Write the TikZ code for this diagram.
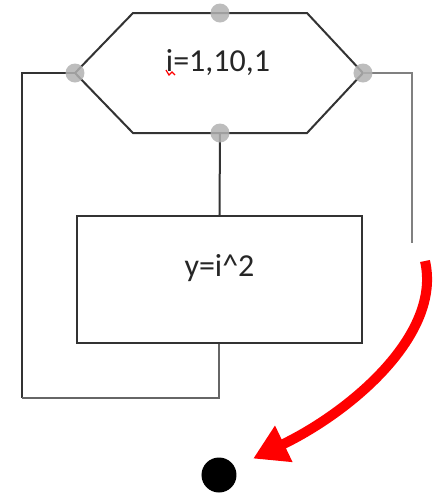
\documentclass[tikz,border=0pt]{standalone}
\usepackage{fontspec}
\setmainfont{Carlito}
\usetikzlibrary{positioning, arrows.meta}

\begin{document}
\begin{tikzpicture}[
        x=0.5pt, y=-0.5pt,
        block/.style={rectangle, draw=black!80, line width=1pt, minimum width=142.5pt, minimum height=63.5pt},
        label/.style={font=\fontsize{16}{19}\selectfont, text=black!85, inner sep=0pt},
        wire/.style={line width=1pt, draw=black!80},
        handle/.style={circle, fill=black!30, opacity=0.85, inner sep=0pt, minimum size=9.5pt},
        arrow/.style={-{Triangle[length=17pt,width=19pt]}, red, line width=5pt, shorten >=10pt}
    ]
    \useasboundingbox (0,0) rectangle (433,495);

    % Schleife (Sechseck)
    \coordinate (hexNW) at (133,13);
    \coordinate (hexN)  at (220,13);
    \coordinate (hexNE) at (307,13);
    \coordinate (hexE)  at (363,73);
    \coordinate (hexSE) at (307,133);
    \coordinate (hexS)  at (220,133);
    \coordinate (hexSW) at (133,133);
    \coordinate (hexW)  at (75,73);
    \draw[wire] (hexNW) -- (hexNE) -- (hexE) -- (hexSE) -- (hexSW) -- (hexW) -- cycle;
    \node[label] (loop) at (218,63) {i=1,10,1};
    \draw[red, line width=0.6pt] (166,70) -- (169,75) -- (172,72) -- (175,75);

    % Schleifenkoerper
    \node[block] (body) at (219.5,279.5) {};
    \node[label] (bodytext) at ([yshift=5.5pt]body.center) {y=i\textasciicircum 2};

    % Ende
    \node[circle, fill=black, minimum size=17.5pt, inner sep=0pt] (stop) at (219,475) {};
    \coordinate (loopback) at (22,398);
    \coordinate (exit) at (412,243);
    \coordinate (arrowstart) at (425,261);

    % Verbindungen
    \draw[wire] (hexS) -- (body.north);
    \draw[wire] (hexW) -| (loopback);
    \draw[wire, draw=black!60] (loopback) -| (body.south);
    \draw[wire, draw=black!50] (hexE) -| (exit);
    \draw[arrow] (arrowstart) .. controls (442,335) and (350,412) .. (stop);

    % Griffpunkte
    \foreach \p in {hexN, hexE, hexS, hexW}
        \node[handle] at (\p) {};
\end{tikzpicture}
\end{document}
